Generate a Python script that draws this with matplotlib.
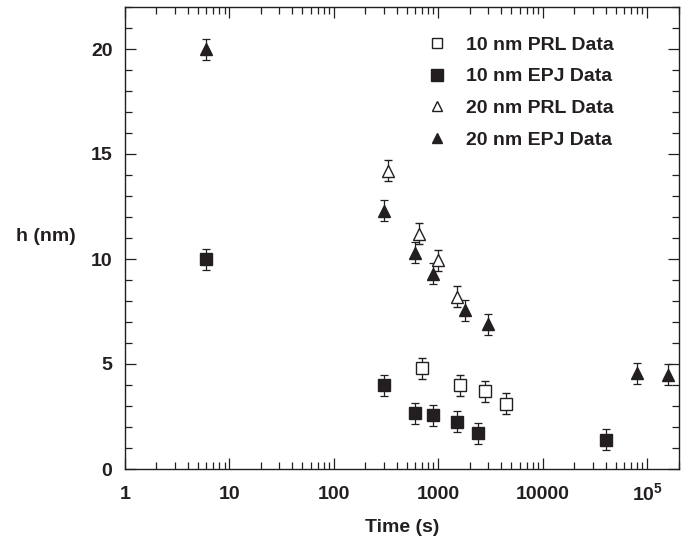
#!/usr/bin/env python3
import matplotlib
matplotlib.use("Agg")
import matplotlib.pyplot as plt
import matplotlib.transforms as mtransforms
from matplotlib.lines import Line2D
from matplotlib.ticker import FixedLocator, FixedFormatter, LogLocator, MultipleLocator

# data (time in s, h in nm, symmetric error)
prl10_t = [700, 1600, 2800, 4500]
prl10_h = [4.8, 4.0, 3.7, 3.1]
prl10_err = [0.5, 0.5, 0.5, 0.5]

epj10_t = [6, 300, 600, 900, 1500, 2400, 40000]
epj10_h = [10.0, 4.0, 2.65, 2.55, 2.25, 1.7, 1.4]
epj10_err = [0.5, 0.5, 0.5, 0.5, 0.5, 0.5, 0.5]

prl20_t = [330, 660, 1000, 1500]
prl20_h = [14.2, 11.2, 9.95, 8.2]
prl20_err = [0.5, 0.5, 0.5, 0.5]

epj20_t = [6, 300, 600, 900, 1800, 3000, 80000, 160000]
epj20_h = [20.0, 12.3, 10.3, 9.3, 7.55, 6.9, 4.55, 4.5]
epj20_err = [0.5, 0.5, 0.5, 0.5, 0.5, 0.5, 0.5, 0.5]

x_ticks = [1, 10, 100, 1000, 10000, 100000]
x_tick_labels = ["1", "10", "100", "1000", "10000", ""]
y_ticks = [0, 5, 10, 15, 20]

INK = "#231f20"
plt.rcParams["font.family"] = ["Liberation Sans", "DejaVu Sans"]
plt.rcParams["font.weight"] = "bold"
plt.rcParams["mathtext.fontset"] = "custom"
plt.rcParams["mathtext.bf"] = "Liberation Sans:bold"

fig = plt.figure(figsize=(6.92, 5.43), dpi=100)
ax = fig.add_axes([125 / 692, 1 - 469 / 543, 554 / 692, 462 / 543])

eb = dict(ls="none", ecolor=INK, elinewidth=0.9, capsize=3, capthick=0.9, zorder=3)
ax.errorbar(prl10_t, prl10_h, yerr=prl10_err, marker="s", ms=8, mfc="white",
            mec=INK, mew=1.0, **eb)
ax.errorbar(epj10_t, epj10_h, yerr=epj10_err, marker="s", ms=8.5, mfc=INK,
            mec=INK, **eb)
ax.errorbar(prl20_t, prl20_h, yerr=prl20_err, marker="^", ms=8, mfc="white",
            mec=INK, mew=1.0, **eb)
ax.errorbar(epj20_t, epj20_h, yerr=epj20_err, marker="^", ms=8.5, mfc=INK,
            mec=INK, **eb)

ax.set_xscale("log")
ax.set_xlim(1, 2.02e5)
ax.set_ylim(0, 22)

ax.xaxis.set_major_locator(FixedLocator(x_ticks))
ax.xaxis.set_major_formatter(FixedFormatter(x_tick_labels))
ax.xaxis.set_minor_locator(LogLocator(base=10, subs=range(2, 10), numticks=20))
ax.xaxis.set_minor_formatter(FixedFormatter([]))
ax.set_yticks(y_ticks)
ax.yaxis.set_minor_locator(MultipleLocator(1))

ax.tick_params(which="both", direction="in", top=True, right=True,
               colors=INK, width=0.9, labelsize=14)
ax.tick_params(axis="x", pad=12)
ax.tick_params(axis="y", pad=9)
ax.tick_params(which="major", length=8)
ax.tick_params(which="minor", length=5)
for lab in ax.get_xticklabels() + ax.get_yticklabels():
    lab.set_fontweight("bold")
for sp in ax.spines.values():
    sp.set_color(INK)
    sp.set_linewidth(1.0)

# 10^5 label placed on the same baseline as the plain tick labels
trans = mtransforms.blended_transform_factory(ax.transData, ax.transAxes)
ax.text(x_ticks[-1], -0.067, r"$\mathbf{10^5}$", transform=trans, ha="center",
        va="baseline", fontsize=14, color=INK)

ax.set_xlabel("Time (s)", fontsize=14, fontweight="bold", color=INK, labelpad=12)
ax.set_ylabel("h (nm)", fontsize=14, fontweight="bold", color=INK, rotation=0)
ax.yaxis.set_label_coords(-0.143, 0.485)

handles = [
    Line2D([], [], ls="none", marker="s", ms=7.5, mfc="white", mec=INK, mew=1.0),
    Line2D([], [], ls="none", marker="s", ms=8.5, mfc=INK, mec=INK),
    Line2D([], [], ls="none", marker="^", ms=6.5, mfc="white", mec=INK, mew=1.0),
    Line2D([], [], ls="none", marker="^", ms=7, mfc=INK, mec=INK),
]
labels = ["10 nm PRL Data", "10 nm EPJ Data", "20 nm PRL Data", "20 nm EPJ Data"]
leg = ax.legend(handles, labels, loc="upper left", bbox_to_anchor=(0.545, 0.937),
                frameon=False, fontsize=14, handlelength=1.0, handletextpad=1.0,
                labelspacing=0.72, borderpad=0, borderaxespad=0)
for t in leg.get_texts():
    t.set_fontweight("bold")
    t.set_color(INK)

fig.savefig("out.png", dpi=100)
